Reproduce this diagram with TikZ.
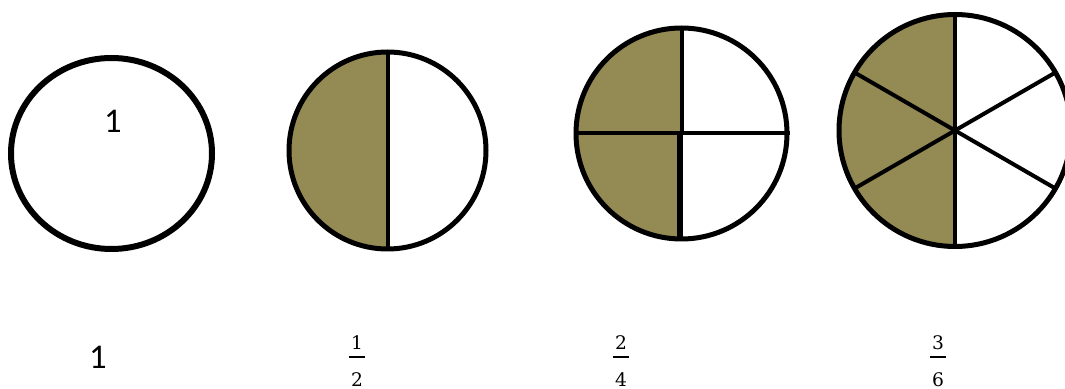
\documentclass[tikz,border=0pt]{standalone}
\usepackage{fontspec}
\setsansfont{Carlito}
\newfontfamily\fracfont{DejaVu Serif}
\usetikzlibrary{positioning}
\definecolor{PartOlive}{RGB}{148,138,84}
\tikzset{
  rim/.style={draw=black,line width=3.75pt},
  thickrim/.style={draw=black,line width=4.5pt},
  cut/.style={draw=black,line width=3pt},
  part/.style={fill=PartOlive},
  wholelabel/.style={font=\sffamily\fontsize{26}{30}\selectfont,inner sep=0pt},
  fraclabel/.style={font=\fracfont\fontsize{14}{17}\selectfont,inner sep=0pt}
}
% numerator, bar, denominator stacked
\newcommand{\piefrac}[2]{%
  \vbox{\offinterlineskip\halign{\hfil##\hfil\cr
    #1\cr\noalign{\kern 4.8pt}
    \vrule width 12.5pt height 1.7pt\cr\noalign{\kern 10.6pt}
    #2\cr}}}

\begin{document}
\begin{tikzpicture}[x=0.75pt,y=0.75pt]
\useasboundingbox (0,0) rectangle (1065,389);

\coordinate (c1) at (111.5,235.5);
\coordinate (c2) at (387.5,238.5);
\coordinate (c3) at (681.5,255.5);
\coordinate (c4) at (955,258.5);

% whole
\draw[thickrim] (c1) ellipse[x radius=100.5,y radius=95.5];
\node[wholelabel] (one) at (113,268) {1};

% halves
\fill[part] (c2) ++(0,98.5) arc[start angle=90,end angle=270,radius=98.5] -- cycle;
\draw[cut] (c2) ++(0,98.5) -- ++(0,-197);
\draw[rim] (c2) circle[radius=98.5];

% quarters
\fill[part] (c3) ++(0,105.5) arc[start angle=90,end angle=270,radius=105.5] -- cycle;
\draw[cut] (c3) ++(-108,0) -- ++(216,0);
\draw[cut] (c3) ++(0.5,0) -- ++(0,105.5);
\draw[cut,line width=4.5pt] (c3) ++(-1.5,0) -- ++(0,-105.5);
\draw[rim] (c3) circle[radius=105.5];

% sixths
\fill[part] (c4) ++(0,116) arc[start angle=90,end angle=270,radius=116] -- cycle;
\draw[cut] (c4) ++(0,116) -- ++(0,-232);
\foreach \a in {30,150,210,330}
  \draw[cut] (c4) -- ++(\a:116);
\draw[rim] (c4) circle[radius=116];

\node[wholelabel] (n1) at (98,32) {1};
\node[fraclabel] (n2) at (357,28) {\piefrac{1}{2}};
\node[fraclabel] (n4) at (621,28) {\piefrac{2}{4}};
\node[fraclabel] (n6) at (938,28) {\piefrac{3}{6}};

\end{tikzpicture}
\end{document}
